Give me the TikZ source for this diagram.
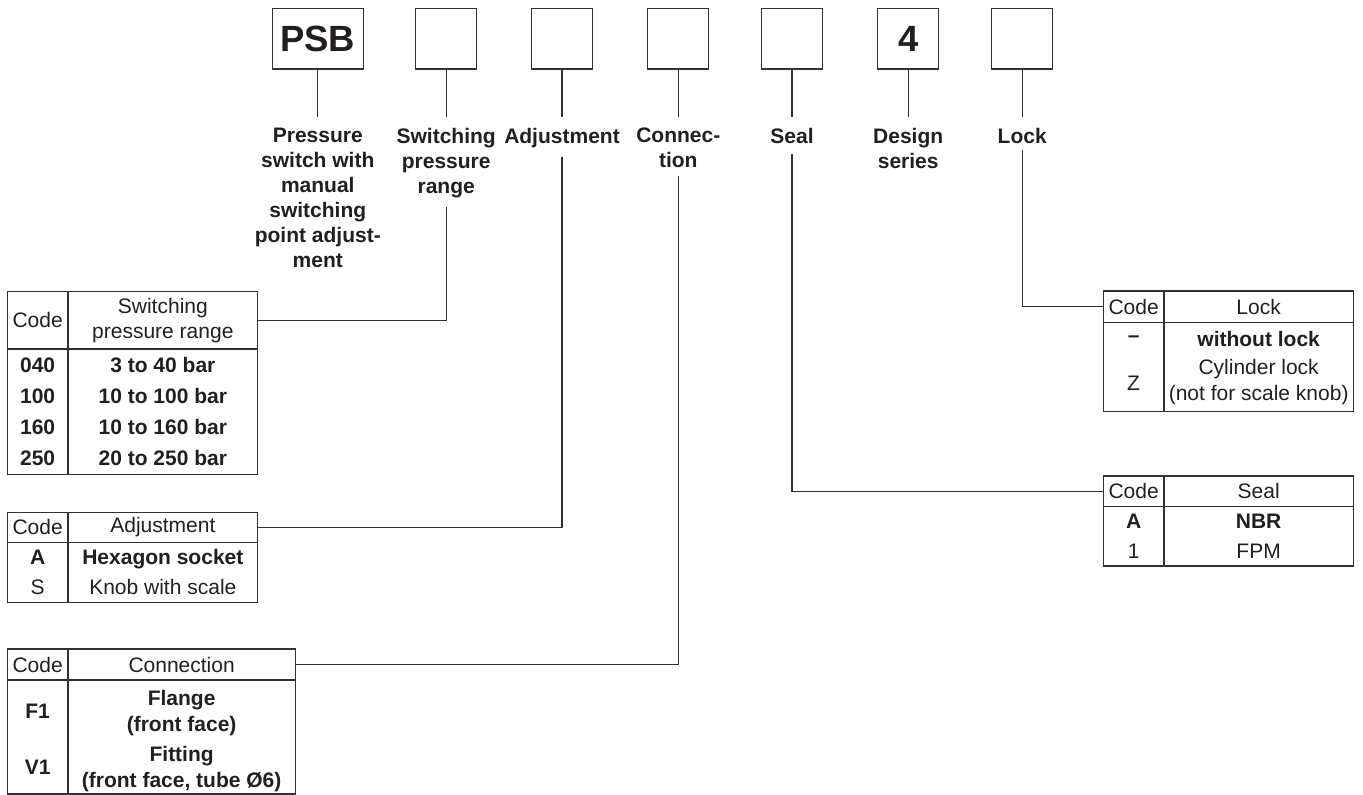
\documentclass[tikz,border=0pt]{standalone}
\usepackage{fontspec}
\setmainfont{Liberation Sans}
\definecolor{ink}{RGB}{35,31,32}
\definecolor{linec}{RGB}{50,50,50}
\newcommand{\fsz}[1]{\fontsize{21}{#1}\selectfont}
\begin{document}
\begin{tikzpicture}[x=1pt,y=-1pt,
  every node/.style={text=ink},
  codebox/.style={draw=linec, line width=1.3pt, inner sep=0pt, minimum height=60.5pt, minimum width=61pt, font=\fontsize{36.5}{40}\selectfont\bfseries},
  lbl/.style={anchor=north, align=center, inner sep=0pt, font=\fsz{25}\bfseries},
  stub/.style={draw=linec, line width=1.2pt},
  conn/.style={draw=linec, line width=1.2pt},
  cell/.style={draw=linec, line width=1.2pt, inner sep=0pt, align=center, font=\fsz{25}},
  txt/.style={inner sep=0pt, align=center, font=\fsz{26}},
  btxt/.style={inner sep=0pt, align=center, font=\fsz{26}\bfseries},
]
\useasboundingbox (0,0) rectangle (1363,795);

% type code boxes
\node[codebox, minimum width=91pt] (b1) at (317.8,38.75) {PSB};
\node[codebox] (b2) at (446.2,38.75) {};
\node[codebox] (b3) at (562,38.75) {};
\node[codebox] (b4) at (678.3,38.75) {};
\node[codebox] (b5) at (792,38.75) {};
\node[codebox] (b6) at (908.2,38.75) {4};
\node[codebox] (b7) at (1022.2,38.75) {};

% labels
\node[lbl] (l1) at (317.8,127.8) {Pressure\\switch with\\manual\\switching\\point adjust-\\ment};
\node[lbl] (l2) at (446.2,127.8) {Switching\\pressure\\range};
\node[lbl] (l3) at (562,127.8) {Adjustment};
\node[lbl] (l4) at (678.3,127.8) {Connec-\\tion};
\node[lbl] (l5) at (792,127.8) {Seal};
\node[lbl] (l6) at (908.2,127.8) {Design\\series};
\node[lbl] (l7) at (1022.2,127.8) {Lock};

% stubs
\foreach \b/\l in {b1/l1,b2/l2,b3/l3,b4/l4,b5/l5,b6/l6,b7/l7}
  \draw[stub] (\b.south) -- ([yshift=11pt]\b.south |- \l.north);

% Table 1: switching pressure range
\node[cell, minimum width=60.7pt, minimum height=57.3pt] (t1hc) at (37.65,320.35) {Code};
\node[cell, minimum width=189.7pt, minimum height=57.3pt] (t1hd) at (162.85,320.35) {Switching\\pressure range};
\node[cell, minimum width=60.7pt, minimum height=125.3pt, font=\fsz{31}\bfseries] (t1bc) at (37.65,411.65) {040\\100\\160\\250};
\node[cell, minimum width=189.7pt, minimum height=125.3pt, font=\fsz{31}\bfseries] (t1bd) at (162.85,411.65) {3 to 40 bar\\10 to 100 bar\\10 to 160 bar\\20 to 250 bar};

% Table 2: adjustment
\node[cell, minimum width=60.7pt, minimum height=30pt] (t2hc) at (37.65,527.3) {Code};
\node[cell, minimum width=189.7pt, minimum height=30pt] (t2hd) at (162.85,527.3) {Adjustment};
\node[cell, minimum width=60.7pt, minimum height=60pt, font=\fsz{30}] (t2bc) at (37.65,572.3) {\textbf{A}\\S};
\node[cell, minimum width=189.7pt, minimum height=60pt, font=\fsz{30}] (t2bd) at (162.85,572.3) {\textbf{Hexagon socket}\\Knob with scale};

% Table 3: connection
\node[cell, minimum width=60.7pt, minimum height=31pt] (t3hc) at (37.65,664.5) {Code};
\node[cell, minimum width=227.3pt, minimum height=31pt] (t3hd) at (181.65,664.5) {Connection};
\node[cell, minimum width=60.7pt, minimum height=114pt] (t3bc) at (37.65,737) {};
\node[cell, minimum width=227.3pt, minimum height=114pt] (t3bd) at (181.65,737) {};
\node[btxt] (t3f1) at (37.65,711) {F1};
\node[btxt] (t3f1d) at (181.65,713) {Flange\\(front face)};
\node[btxt] (t3v1) at (37.65,767) {V1};
\node[btxt] (t3v1d) at (181.65,769) {Fitting\\(front face, tube Ø6)};

% Table 4: lock
\node[cell, minimum width=60.7pt, minimum height=31.5pt] (t4hc) at (1133.65,306.75) {Code};
\node[cell, minimum width=189.3pt, minimum height=31.5pt] (t4hd) at (1258.65,306.75) {Lock};
\node[cell, minimum width=60.7pt, minimum height=89.2pt] (t4bc) at (1133.65,367.1) {};
\node[cell, minimum width=189.3pt, minimum height=89.2pt] (t4bd) at (1258.65,367.1) {};
\node[btxt] (t4r1c) at (1133.65,339) {\textendash};
\node[btxt] (t4r1d) at (1258.65,339) {without lock};
\node[txt] (t4r2c) at (1133.65,383) {Z};
\node[txt] (t4r2d) at (1258.65,382) {Cylinder lock\\(not for scale knob)};

% Table 5: seal
\node[cell, minimum width=60.7pt, minimum height=30.7pt] (t5hc) at (1133.65,491.35) {Code};
\node[cell, minimum width=189.3pt, minimum height=30.7pt] (t5hd) at (1258.65,491.35) {Seal};
\node[cell, minimum width=60.7pt, minimum height=59.3pt, font=\fsz{30}] (t5bc) at (1133.65,536.35) {\textbf{A}\\1};
\node[cell, minimum width=189.3pt, minimum height=59.3pt, font=\fsz{30}] (t5bd) at (1258.65,536.35) {\textbf{NBR}\\FPM};

% connectors
\draw[conn] ([yshift=-9.6pt]l2.south) |- (t1hd.east);
\draw[conn] ([yshift=-9pt]l3.south) |- (t2hd.east);
\draw[conn] ([yshift=-8pt]l4.south) |- (t3hd.east);
\draw[conn] ([yshift=-10.6pt]l5.south) |- (t5hc.west);
\draw[conn] ([yshift=-6.6pt]l7.south) |- (t4hc.west);
\end{tikzpicture}
\end{document}
